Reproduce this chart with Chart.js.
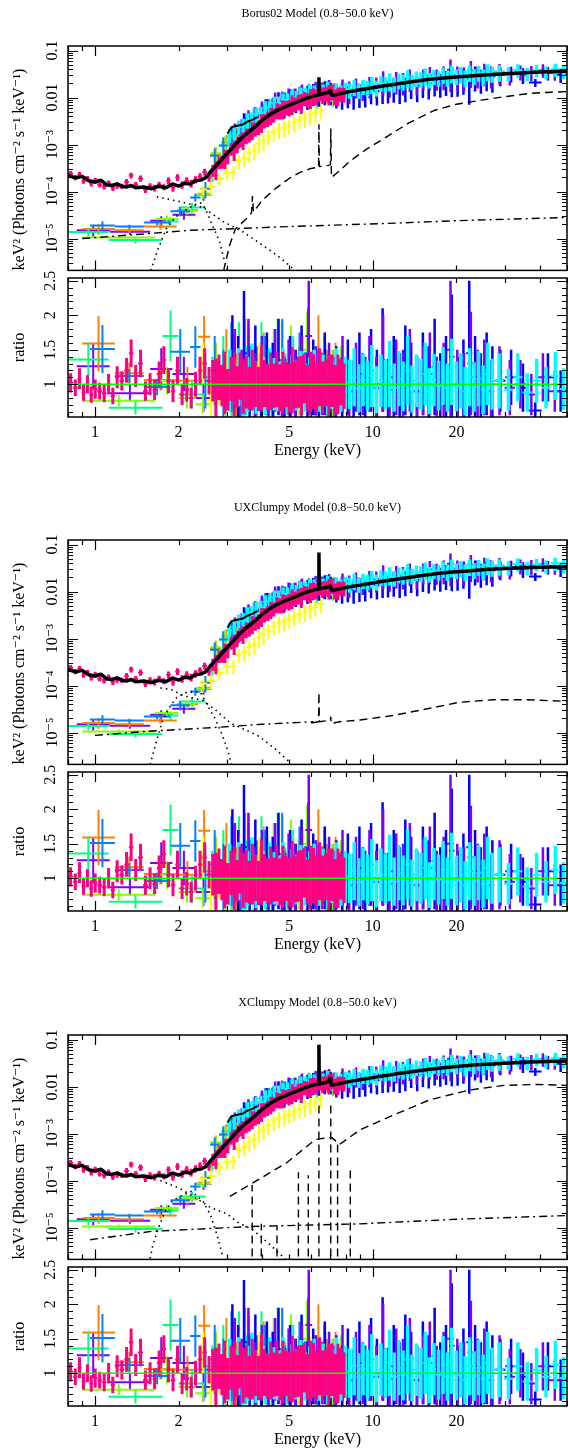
<!DOCTYPE html>
<html>
<head>
<meta charset="utf-8">
<script src="https://cdn.jsdelivr.net/npm/chart.js@4.4.1/dist/chart.umd.min.js"></script>
<style>
  body { margin: 0; background: #fff; width: 568px; height: 1450px; position: relative; overflow: hidden; }
  canvas { position: absolute; left: 0; }
</style>
</head>
<body>
<script>
// ---------- axes, tick labels, titles ----------
const eMin = 0.8, eMax = 50;
const fluxMin = 2.1e-6, fluxMax = 0.125;
const ratioMin = 0.525, ratioMax = 2.54;
const xTickValues = [1, 2, 5, 10, 20];
const xTickLabels = ['1', '2', '5', '10', '20'];
const fluxTickValues = [1e-5, 1e-4, 1e-3, 0.01, 0.1];
const fluxTickLabels = ['10\u207B\u2075', '10\u207B\u2074', '10\u207B\u00B3', '0.01', '0.1'];
const ratioTickValues = [1, 1.5, 2, 2.5];
const ratioTickLabels = ['1', '1.5', '2', '2.5'];
const panelTitles = ['Borus02 Model (0.8\u221250.0 keV)', 'UXClumpy Model (0.8\u221250.0 keV)', 'XClumpy Model (0.8\u221250.0 keV)'];
const fluxTitle = 'keV\u00B2 (Photons cm\u207B\u00B2 s\u207B\u00B9 keV\u207B\u00B9)';

// ---------- data: bin edges (keV), unfolded E^2 f(E), data/model ratio, ratio error ----------
const pinkEdges = [0.8,0.835,0.865,0.895,0.925,0.955,0.985,1.02,1.06,1.1,1.14,1.18,1.225,1.275,1.325,1.375,1.43,1.49,1.55,1.61,1.67,1.735,1.805,1.875,1.945,2.02,2.1,2.18,2.26,2.345,2.435,2.53,2.62,
  2.69,2.76,2.83,2.9,2.97,3.05,3.13,3.21,3.29,3.37,3.46,3.55,3.64,3.73,3.83,3.93,4.03,4.13,4.24,4.35,4.46,4.57,4.69,4.81,4.93,5.06,5.19,5.32,5.46,5.6,5.74,5.89,6.04,6.2,6.36,6.52,6.69,6.86,7.04,7.22,7.4,7.59,7.78,7.98];
const pinkFlux = [2.4e-4,2.0e-4,2.3e-4,1.7e-4,1.9e-4,1.5e-4,1.7e-4,1.4e-4,1.3e-4,1.5e-4,1.2e-4,1.35e-4,1.3e-4,1.6e-4,2.2e-4,1.4e-4,1.9e-4,1.1e-4,1.3e-4,1.2e-4,1.4e-4,1.25e-4,1.7e-4,1.2e-4,2.0e-4,1.4e-4,1.7e-4,1.5e-4,1.8e-4,2.1e-4,2.6e-4,2.0e-4,
  2.9e-4,3.1e-4,4.3e-4,4.4e-4,5.4e-4,5.6e-4,8.2e-4,8.3e-4,9.5e-4,1.25e-3,1.3e-3,1.6e-3,1.65e-3,2.1e-3,2.2e-3,2.4e-3,3.1e-3,3.3e-3,3.6e-3,4.3e-3,4.4e-3,5.5e-3,5.3e-3,6.1e-3,6.3e-3,6.4e-3,7.7e-3,7.5e-3,8.3e-3,8.2e-3,9.8e-3,9.3e-3,1.05e-2,1.12e-2,1.08e-2,1.35e-2,1.18e-2,1.24e-2,1.26e-2,1.38e-2,1.08e-2,1.15e-2,1.22e-2,1.19e-2];
const pinkRatio = [1.02,0.95,1.08,0.88,1.0,0.85,0.93,0.9,0.87,1.0,0.83,1.1,1.05,1.2,1.45,1.12,1.3,0.9,1.0,0.92,1.15,1.35,1.05,0.9,1.2,0.85,0.92,0.8,1.0,1.2,1.3,1.05,
  1.05,0.95,1.1,0.98,1.02,0.92,1.08,1.0,0.96,1.12,0.97,1.03,0.94,1.06,1.0,0.93,1.09,1.01,0.96,1.04,0.98,1.07,0.95,1.02,1.0,0.94,1.06,0.99,1.03,0.97,1.08,0.95,1.01,1.04,0.97,1.1,0.96,1.02,0.98,1.05,0.93,1.0,1.03,0.97];
const pinkErr = [0.14,0.12,0.15,0.12,0.13,0.12,0.14,0.12,0.13,0.15,0.12,0.16,0.14,0.18,0.2,0.16,0.2,0.14,0.16,0.15,0.18,0.2,0.18,0.16,0.2,0.15,0.17,0.15,0.18,0.2,0.22,0.2,
  0.3,0.42,0.33,0.3,0.45,0.3,0.32,0.46,0.3,0.34,0.4,0.38,0.31,0.44,0.33,0.32,0.47,0.34,0.33,0.42,0.32,0.4,0.34,0.45,0.33,0.36,0.48,0.34,0.37,0.44,0.36,0.33,0.46,0.4,0.36,0.42,0.37,0.34,0.45,0.38,0.35,0.43,0.34,0.33];

const cyanEdges = [3.0,3.11,3.23,3.35,3.48,3.61,3.74,3.88,4.03,4.18,4.34,4.5,4.67,4.84,5.02,5.21,5.41,5.61,5.82,6.04,6.27,6.5,6.75,7.0,7.26,7.53,7.82,8.11,8.41,8.73,9.06,9.4,9.75,10.1,10.5,10.9,11.3,11.7,12.2,12.6,13.1,13.6,14.1,14.6,15.2,15.7,16.3,16.9,17.6,18.2,18.9,19.6,20.4,21.1,21.9,22.7,23.6,24.5,25.4,26.4,27.4,29.6,32.0,34.6,37.4,40.4,43.7,47.2,50.0];
const cyanFlux = [1.5e-3,1.75e-3,2.35e-3,2.5e-3,3.3e-3,3.5e-3,4.4e-3,4.6e-3,6.0e-3,6.2e-3,7.5e-3,7.7e-3,9.0e-3,8.9e-3,1.04e-2,1.01e-2,1.2e-2,1.19e-2,1.37e-2,1.32e-2,
  1.5e-2,1.4e-2,1.56e-2,1.27e-2,1.46e-2,1.34e-2,1.52e-2,1.47e-2,1.72e-2,1.49e-2,1.76e-2,1.67e-2,1.96e-2,1.66e-2,2.09e-2,1.98e-2,2.31e-2,2.0e-2,2.36e-2,2.22e-2,
  2.7e-2,2.25e-2,2.64e-2,2.53e-2,2.98e-2,2.45e-2,2.88e-2,2.68e-2,3.12e-2,2.65e-2,3.38e-2,2.89e-2,3.22e-2,2.71e-2,3.48e-2,2.95e-2,3.43e-2,2.87e-2,3.68e-2,3.28e-2,
  3.52e-2,3.28e-2,3.86e-2,3.26e-2,3.83e-2,3.53e-2,4.0e-2,3.62e-2];
const cyanRatio = [1.05,0.95,1.1,0.9,1.0,1.15,0.95,1.05,0.92,1.1,1.0,0.97,1.12,0.93,1.04,0.98,1.08,0.95,1.02,1.1,0.96,1.05,0.9,1.0,1.12,0.95,1.03,1.0,1.1,0.94,
  1.06,0.98,1.12,0.92,1.05,1.0,1.15,0.95,1.08,0.97,1.2,0.93,1.05,1.0,1.15,0.9,1.06,0.98,1.12,0.95,1.18,0.97,1.05,0.9,1.1,0.96,1.08,0.92,1.15,1.0,1.05,0.92,1.1,0.88,1.05,0.95,1.12,0.93];
const cyanErr = [0.45,0.4,0.42,0.38,0.4,0.44,0.38,0.4,0.36,0.42,0.38,0.36,0.4,0.35,0.38,0.36,0.4,0.35,0.37,0.4,0.36,0.38,0.34,0.36,0.4,0.35,0.37,0.36,0.42,0.35,
  0.38,0.36,0.45,0.34,0.38,0.36,0.48,0.35,0.4,0.36,0.5,0.34,0.38,0.37,0.45,0.33,0.38,0.36,0.42,0.35,0.48,0.36,0.4,0.35,0.42,0.36,0.4,0.35,0.45,0.37,0.4,0.3,0.35,0.28,0.32,0.3,0.35,0.3];

const blueEdges = [3.05,3.2,3.36,3.52,3.69,3.87,4.06,4.26,4.47,4.69,4.92,5.16,5.41,5.68,5.96,6.25,6.56,6.88,7.22,7.57,7.94,8.33,8.74,9.17,9.62,10.1,10.6,11.1,11.6,12.2,12.8,13.4,14.1,14.8,15.5,16.3,17.1,17.9,18.8,19.7,20.7,21.7,22.8,23.9,25.1,26.3,27.6,30.0,33.0,36.5,40.5,45.0,50.0];
const blueFlux = [1.53e-3,1.76e-3,2.85e-3,2.78e-3,4.1e-3,4.2e-3,6.1e-3,6.3e-3,8.3e-3,8.1e-3,9.7e-3,9.4e-3,1.14e-2,1.15e-2,1.3e-2,1.27e-2,1.44e-2,1.37e-2,1.11e-2,1.05e-2,
  1.18e-2,1.1e-2,1.26e-2,1.17e-2,1.44e-2,1.36e-2,1.65e-2,1.46e-2,1.71e-2,1.54e-2,1.74e-2,1.96e-2,1.78e-2,2.05e-2,2.02e-2,2.38e-2,2.1e-2,2.38e-2,2.84e-2,2.35e-2,
  2.69e-2,2.55e-2,2.95e-2,2.55e-2,2.85e-2,2.81e-2,3.04e-2,3.3e-2,3.06e-2,2.09e-2,3.37e-2,3.06e-2];
const blueRatio = [1.3,1.1,1.45,1.0,1.2,0.95,1.15,1.05,1.25,0.9,1.1,1.0,1.2,0.95,1.1,1.0,1.15,0.9,1.05,0.95,1.1,0.9,1.15,0.95,1.2,1.0,1.35,0.92,1.1,0.95,
  1.2,1.05,0.9,1.15,1.0,1.25,0.95,1.1,1.4,0.9,1.05,1.45,1.1,0.95,1.15,1.0,1.05,1.1,0.95,0.62,1.1,0.9];
const blueErr = [0.7,0.6,0.9,0.55,0.65,0.5,0.6,0.55,0.7,0.5,0.6,0.5,0.65,0.5,0.55,0.5,0.6,0.45,0.5,0.45,0.55,0.45,0.6,0.45,0.6,0.5,0.75,0.45,0.6,0.5,
  0.65,0.55,0.5,0.6,0.55,0.7,0.5,0.6,0.9,0.5,0.6,1.05,0.6,0.5,0.6,0.55,0.45,0.4,0.35,0.12,0.35,0.3];

const purpleEdges = [3.1,3.28,3.47,3.67,3.88,4.1,4.33,4.58,4.84,5.12,5.41,5.72,6.05,6.4,6.77,7.16,7.57,8.0,8.46,8.95,9.46,10.0,10.6,11.2,11.8,12.5,13.2,14.0,14.8,15.6,16.5,17.5,18.5,19.6,20.7,21.9,23.2,24.5,25.9,27.4,29.8,32.5,35.5,39.0,43.0,47.5];
const purpleFlux = [1.86e-3,2.3e-3,3.56e-3,3.76e-3,5.6e-3,6.0e-3,8.5e-3,8.4e-3,1.04e-2,1.04e-2,1.29e-2,1.29e-2,1.43e-2,1.44e-2,1.63e-2,1.33e-2,1.63e-2,1.46e-2,1.75e-2,1.54e-2,
  1.86e-2,1.82e-2,2.36e-2,1.93e-2,2.32e-2,2.22e-2,2.64e-2,2.21e-2,2.69e-2,2.94e-2,2.65e-2,2.99e-2,3.89e-2,3.04e-2,2.84e-2,3.78e-2,3.12e-2,3.48e-2,3.1e-2,3.52e-2,
  3.12e-2,3.55e-2,3.45e-2,3.87e-2,3.4e-2];
const purpleRatio = [1.2,1.0,1.3,0.95,1.15,1.0,1.2,0.9,1.1,1.0,1.15,1.7,1.05,1.0,1.1,0.95,1.15,0.9,1.1,1.0,1.15,0.95,1.3,0.92,1.1,1.0,1.2,0.9,1.05,1.15,
  0.95,1.05,1.5,1.0,0.95,1.3,1.0,1.1,0.9,1.05,0.95,1.0,0.85,1.1,0.9];
const purpleErr = [0.6,0.5,0.65,0.5,0.55,0.5,0.6,0.45,0.55,0.5,0.55,0.8,0.5,0.45,0.5,0.45,0.55,0.45,0.5,0.45,0.55,0.45,0.7,0.45,0.55,0.5,0.6,0.45,0.5,0.6,
  0.45,0.55,1.0,0.5,0.5,0.75,0.5,0.55,0.45,0.5,0.4,0.35,0.3,0.35,0.3];

const yellowEdges = [2.38,2.53,2.71,2.9,3.08,3.22,3.37,3.52,3.67,3.82,3.97,4.12,4.3,4.5,4.7,4.9,5.1,5.32,5.58,5.82,6.07,6.35,6.65];
const yellowFlux = [1.1e-4,1.25e-4,1.9e-4,2.5e-4,2.6e-4,4.5e-4,5.2e-4,6.6e-4,7.5e-4,1.05e-3,1.2e-3,1.5e-3,1.8e-3,2.1e-3,2.3e-3,2.5e-3,2.9e-3,3.3e-3,3.7e-3,4.3e-3,4.7e-3,5.6e-3];
const yellowRatio = [1.3,0.75,1.0,1.1,0.9,1.2,0.95,1.05,0.9,1.15,1.0,0.95,1.1,0.92,1.05,0.98,1.08,0.95,1.02,1.1,0.93,1.05];
const yellowErr = [0.3,0.25,0.3,0.35,0.3,0.4,0.35,0.4,0.35,0.45,0.4,0.35,0.4,0.35,0.4,0.35,0.4,0.35,0.4,0.45,0.35,0.4];

const springEdges = [0.8,1.12,1.75,2.0,2.5,2.8,3.0,3.2,3.4,3.6,3.85,4.1,4.4,4.7,5.0,5.35,5.7,6.1,6.5,6.95,7.45,8.0];
const springFlux = [1.38e-5,9.3e-6,2.3e-5,4.6e-5,2.2e-4,9.4e-4,1.5e-3,1.9e-3,3.1e-3,3.7e-3,4.7e-3,6.3e-3,7.8e-3,8.5e-3,1.04e-2,1.09e-2,1.37e-2,1.3e-2,1.56e-2,1.27e-2,1.48e-2];
const springRatio = [1.36,0.66,1.7,0.85,1.1,1.2,0.95,1.3,1.05,0.9,1.25,1.0,1.35,0.95,1.15,1.05,1.4,0.9,1.2,1.0,1.1];
const springErr = [0.25,0.1,0.37,0.2,0.3,0.5,0.55,0.6,0.5,0.55,0.65,0.5,0.6,0.5,0.55,0.5,0.6,0.5,0.55,0.5,0.45];

const lgreenEdges = [0.9,1.65,2.0,2.3,2.6,2.85,3.05,3.25,3.45,3.7,3.95,4.25,4.55,4.9,5.25,5.6,6.0,6.45,6.9,7.4,8.0];
const lgreenFlux = [1.05e-5,2.6e-5,4.0e-5,8.5e-5,6.5e-4,1.0e-3,1.7e-3,1.9e-3,3.2e-3,3.75e-3,6.0e-3,6.9e-3,8.9e-3,9.1e-3,1.12e-2,1.2e-2,1.43e-2,1.36e-2,1.33e-2,1.35e-2];
const lgreenRatio = [0.76,1.05,0.8,0.71,1.15,0.95,1.2,1.0,1.3,0.9,1.1,1.2,0.95,1.25,1.05,1.5,0.95,1.15,1.0,1.1];
const lgreenErr = [0.08,0.2,0.15,0.13,0.45,0.5,0.55,0.5,0.6,0.5,0.55,0.6,0.5,0.6,0.5,0.55,0.5,0.55,0.5,0.45];

const orangeEdges = [0.9,1.18,1.5,1.97,2.35,2.6,2.85,3.1,3.35,3.6,3.9,4.2,4.55,4.9,5.3,5.7,6.15,6.6,7.1,7.6,8.0];
const orangeFlux = [1.6e-5,1.5e-5,1.8e-5,4.0e-5,9.0e-5,6.0e-4,1.1e-3,1.7e-3,2.5e-3,3.3e-3,5.0e-3,6.4e-3,8.0e-3,9.5e-3,1.1e-2,1.25e-2,1.4e-2,1.5e-2,1.3e-2,1.45e-2];
const orangeRatio = [1.59,1.16,1.06,1.05,1.69,1.1,1.25,0.95,1.35,1.0,1.2,0.9,1.3,1.05,1.15,0.95,1.45,1.0,1.1,0.95];
const orangeErr = [0.4,0.15,0.15,0.2,0.3,0.5,0.55,0.5,0.6,0.5,0.55,0.45,0.6,0.5,0.55,0.45,0.55,0.5,0.5,0.45];

const azureEdges = [0.96,1.18,1.5,1.87,2.2,2.4,2.6,2.8,3.0,3.2,3.45,3.7,3.95,4.25,4.55,4.9,5.25,5.65,6.05,6.5,7.0,7.5,8.0];
const azureFlux = [1.9e-5,1.8e-5,2.2e-5,3.8e-5,7.5e-5,1.15e-4,5.8e-4,9.5e-4,1.5e-3,2.0e-3,3.3e-3,3.8e-3,6.2e-3,6.8e-3,9.2e-3,9.0e-3,1.15e-2,1.2e-2,1.45e-2,1.4e-2,1.35e-2,1.45e-2];
const azureRatio = [1.51,1.12,0.96,1.47,1.54,1.05,1.2,1.0,1.3,0.95,1.25,1.05,1.15,0.9,1.35,1.0,1.2,1.45,1.05,1.1,0.95,1.0];
const azureErr = [0.35,0.1,0.12,0.33,0.3,0.4,0.5,0.5,0.6,0.45,0.55,0.5,0.55,0.45,0.6,0.5,0.55,0.65,0.5,0.5,0.45,0.4];

const violetEdges = [0.86,1.13,1.58,1.9,2.3,2.63];
const violetFlux = [1.5e-5,1.4e-5,2.4e-5,3.2e-5,8.5e-5];
const violetRatio = [1.26,0.87,1.22,1.15,0.8];
const violetErr = [0.33,0.12,0.3,0.25,0.2];

// ---------- models ----------
const modelSoftE = [0.8,0.85,0.9,0.95,1.0,1.05,1.1,1.15,1.2,1.25,1.3,1.35,1.4,1.5,1.6,1.7,1.8,1.9,2.0,2.1,2.2,2.3,2.4,2.5,2.6,2.7,2.8,2.9,3.0,3.2,3.4,3.6,3.8,4.0,4.3,4.6,5.0,5.4,5.8,6.2];
const modelSoft = [2.2e-4,1.95e-4,2.1e-4,1.7e-4,1.6e-4,1.75e-4,1.4e-4,1.35e-4,1.45e-4,1.3e-4,1.25e-4,1.35e-4,1.2e-4,1.25e-4,1.15e-4,1.3e-4,1.2e-4,1.45e-4,1.3e-4,1.5e-4,1.45e-4,1.7e-4,1.75e-4,1.95e-4,2.6e-4,3.3e-4,4.2e-4,5.3e-4,
  6.6e-4,1.0e-3,1.45e-3,1.9e-3,2.5e-3,3.3e-3,4.5e-3,5.6e-3,6.9e-3,8.3e-3,9.8e-3,1.1e-2];
const modelHardE = [6.38,6.4,6.42,6.6,6.9,7.05,7.1,7.3,7.6,8.0,8.5,9,10,11,12,14,16,18,20,23,26,30,35,40,45,50];
const borusHard = [1.13e-2,2.7e-2,1.14e-2,1.2e-2,1.28e-2,1.45e-2,1.1e-2,1.13e-2,1.2e-2,1.3e-2,1.38e-2,1.46e-2,1.62e-2,1.78e-2,1.92e-2,2.2e-2,2.45e-2,2.62e-2,2.75e-2,2.92e-2,3.07e-2,3.22e-2,3.38e-2,3.5e-2,3.58e-2,3.65e-2];
const uxHard = [1.12e-2,6.8e-2,1.13e-2,1.18e-2,1.25e-2,1.35e-2,1.05e-2,1.08e-2,1.14e-2,1.22e-2,1.3e-2,1.37e-2,1.52e-2,1.67e-2,1.8e-2,2.07e-2,2.3e-2,2.5e-2,2.65e-2,2.82e-2,2.97e-2,3.1e-2,3.22e-2,3.3e-2,3.35e-2,3.38e-2];
const xcHard = [1.12e-2,7.8e-2,1.13e-2,1.18e-2,1.25e-2,1.6e-2,1.06e-2,1.1e-2,1.16e-2,1.24e-2,1.32e-2,1.4e-2,1.55e-2,1.7e-2,1.84e-2,2.1e-2,2.33e-2,2.52e-2,2.68e-2,2.86e-2,3.0e-2,3.15e-2,3.28e-2,3.38e-2,3.45e-2,3.5e-2];
// second (cross-normalised) model step near 3-4 keV
const stepE = [3.0,3.1,3.25,3.4,3.55,3.7,3.85];
const stepF = [1.7e-3,2.35e-3,2.5e-3,2.65e-3,3.1e-3,3.4e-3,3.9e-3];

// borus02: reflection (dashed), scattered power law (dash-dot), soft components (dotted)
const borusReflE = [2.9,3.05,3.2,3.5,3.66,3.69,3.72,4.0,4.5,5.0,5.5,6.0,6.38,6.4,6.42,6.9,7.04,7.06,7.1,7.5,8.3,9.5,11.1,13.5,16.6,20,24.6,30,37,44,50];
const borusReflF = [2e-6,7e-6,1.6e-5,2.6e-5,3.5e-5,8e-5,3.7e-5,6.5e-5,1.2e-4,1.9e-4,2.6e-4,3.1e-4,3.3e-4,2.7e-3,3.4e-4,3.6e-4,3.7e-4,2.2e-3,2.0e-4,2.6e-4,4.5e-4,8.0e-4,1.4e-3,2.9e-3,5.3e-3,7.2e-3,8.8e-3,1.05e-2,1.23e-2,1.3e-2,1.34e-2];
const borusScatE = [0.9,1.5,2.2,3.0,5.0,11.4,20,50];
const borusScatF = [1.0e-5,1.25e-5,1.5e-5,1.6e-5,1.8e-5,2.1e-5,2.4e-5,2.8e-5];
const borusDot1E = [1.59,1.68,1.82,1.97,2.14,2.3,2.39,2.45,2.52,2.64,2.8,2.92,3.0];
const borusDot1F = [2.1e-6,5.6e-6,1.8e-5,3.0e-5,4.2e-5,5.3e-5,5.8e-5,5.2e-5,3.8e-5,2.0e-5,9e-6,3.5e-6,2.1e-6];
const borusDot2E = [1.67,2.0,2.45,2.89,3.4,4.0,4.5,5.0,5.3];
const borusDot2F = [7.7e-5,6.2e-5,4.6e-5,2.3e-5,1.4e-5,7.3e-6,4.5e-6,2.7e-6,2.0e-6];

// UXClumpy
const uxReflE = [6.0,6.38,6.4,6.42,6.9,7.04,7.06,7.08,7.6,9.0,11.8,15.7,20.4,27,35.7,50];
const uxReflF = [1.6e-5,1.7e-5,7.2e-5,1.7e-5,1.8e-5,1.85e-5,2.2e-5,1.55e-5,1.7e-5,1.85e-5,2.3e-5,3.2e-5,4.4e-5,5.0e-5,5.0e-5,4.6e-5];
const uxScatE = [1.0,1.5,2.8,4.0,6.1];
const uxScatF = [8.7e-6,1.05e-5,1.3e-5,1.5e-5,1.7e-5];
const uxDot1E = [1.58,1.67,1.75,1.87,1.97,2.14,2.39,2.45,2.72,2.88,3.02,3.1];
const uxDot1F = [2.1e-6,7e-6,1.8e-5,3.7e-5,5.6e-5,7.2e-5,7.4e-5,5.6e-5,1.85e-5,8.5e-6,3.8e-6,2.1e-6];
const uxDot2E = [1.72,1.87,2.1,2.45,2.72,3.07,3.9,4.45,5.0];
const uxDot2F = [8.9e-5,8.3e-5,6.0e-5,4.8e-5,3.0e-5,1.6e-5,8.3e-6,4.5e-6,2.4e-6];

// XClumpy
const xcReflE = [3.06,3.7,4.9,6.2,6.5,7.1,7.6,9.0,12.1,16.0,22.2,29.6,38.9,50];
const xcReflF = [4.6e-5,8.9e-5,2.4e-4,7.4e-4,7.8e-4,8.3e-4,5.9e-4,1.2e-3,2.6e-3,5.2e-3,8.4e-3,1.06e-2,1.11e-2,1.06e-2];
const xcLineE = [3.68,3.97,4.52,5.4,5.86,6.4,7.06,7.47,8.3];
const xcLinePeak = [8e-5,1.2e-5,1.1e-5,1.5e-4,1.3e-4,4.4e-3,4.9e-3,7.4e-4,1.8e-4];
const xcScatE = [0.96,1.6,3.6,9.0,20,50];
const xcScatF = [5.5e-6,8.3e-6,1.05e-5,1.2e-5,1.5e-5,1.8e-5];
const xcDot1E = [1.58,1.62,1.69,1.78,1.9,2.07,2.23,2.45,2.6,2.74,2.88];
const xcDot1F = [2.2e-6,4.5e-6,9.5e-6,2.1e-5,3.7e-5,4.9e-5,5.9e-5,3.6e-5,1.9e-5,7.5e-6,2.5e-6];
const xcDot2E = [1.72,2.0,2.26,2.6,2.99,3.26,3.7,4.2,4.9];
const xcDot2F = [1.0e-4,7e-5,4.6e-5,2.7e-5,1.95e-5,1.3e-5,9e-6,4.7e-6,2e-6];

const unityE = [0.8, 50];
const unityR = [1, 1];

// ---------- styling ----------
const SERIF = '"Liberation Serif", "DejaVu Serif", serif';
Chart.defaults.font.family = SERIF;
Chart.defaults.color = '#000';

const dataSeries = [ // first entry is drawn on top; vw = width of the error bars
  {color: 'rgb(255,0,128)', vw: 3, edges: pinkEdges, flux: pinkFlux, ratio: pinkRatio, err: pinkErr},
  {color: 'rgb(0,255,255)', vw: 3.5, edges: cyanEdges, flux: cyanFlux, ratio: cyanRatio, err: cyanErr},
  {color: 'rgb(128,0,255)', vw: 2.5, edges: purpleEdges, flux: purpleFlux, ratio: purpleRatio, err: purpleErr},
  {color: 'rgb(0,0,255)', vw: 2.5, edges: blueEdges, flux: blueFlux, ratio: blueRatio, err: blueErr},
  {color: 'rgb(255,255,0)', vw: 2, edges: yellowEdges, flux: yellowFlux, ratio: yellowRatio, err: yellowErr},
  {color: 'rgb(0,128,255)', vw: 2, edges: azureEdges, flux: azureFlux, ratio: azureRatio, err: azureErr},
  {color: 'rgb(128,255,0)', vw: 2, edges: lgreenEdges, flux: lgreenFlux, ratio: lgreenRatio, err: lgreenErr},
  {color: 'rgb(0,255,128)', vw: 2, edges: springEdges, flux: springFlux, ratio: springRatio, err: springErr},
  {color: 'rgb(255,128,0)', vw: 2, edges: orangeEdges, flux: orangeFlux, ratio: orangeRatio, err: orangeErr},
  {color: 'rgb(128,0,255)', vw: 2, edges: violetEdges, flux: violetFlux, ratio: violetRatio, err: violetErr}
];

const panels = [
  {hard: borusHard, refl: [borusReflE, borusReflF], scat: [borusScatE, borusScatF], dot1: [borusDot1E, borusDot1F], dot2: [borusDot2E, borusDot2F]},
  {hard: uxHard, refl: [uxReflE, uxReflF], scat: [uxScatE, uxScatF], dot1: [uxDot1E, uxDot1F], dot2: [uxDot2E, uxDot2F]},
  {hard: xcHard, refl: [xcReflE, xcReflF], scat: [xcScatE, xcScatF], dot1: [xcDot1E, xcDot1F], dot2: [xcDot2E, xcDot2F], lines: [xcLineE, xcLinePeak]}
];
const panelOffsets = [0, 494, 989];

// tick marks drawn inside the frame (PGPLOT style)
const xMajorTicks = [1, 10];
const xMinorTicks = [0.8, 0.9, 2, 3, 4, 5, 6, 7, 8, 9, 20, 30, 40, 50];
const fluxMinorTicks = [];
for (let d = -6; d <= -1; d++) for (let m = 2; m <= 9; m++) {
  const v = m * Math.pow(10, d);
  if (v > fluxMin && v < fluxMax) fluxMinorTicks.push(v);
}
const ratioMinorTicks = [];
for (let v = 6; v <= 25; v++) if (v % 5) ratioMinorTicks.push(v / 10);

const frameTicks = {
  id: 'frameTicks',
  afterDatasetsDraw(chart, _args, o) {
    const {ctx, chartArea: a} = chart;
    const xs = chart.scales.x, ys = chart.scales.y;
    ctx.save();
    ctx.strokeStyle = '#000';
    ctx.lineWidth = 1.2;
    ctx.setLineDash([]);
    ctx.beginPath();
    const seg = (x1, y1, x2, y2) => { ctx.moveTo(x1, y1); ctx.lineTo(x2, y2); };
    [[xMajorTicks, 10], [xMinorTicks, 5]].forEach(([list, len]) => list.forEach(v => {
      const px = Math.round(xs.getPixelForValue(v)) + 0.5;
      seg(px, a.top, px, a.top + len);
      seg(px, a.bottom, px, a.bottom - len);
    }));
    [[o.yMajor, 10], [o.yMinor, 5]].forEach(([list, len]) => list.forEach(v => {
      const py = Math.round(ys.getPixelForValue(v)) + 0.5;
      seg(a.left, py, a.left + len, py);
      seg(a.right, py, a.right - len, py);
    }));
    ctx.stroke();
    ctx.lineWidth = 1.5;
    ctx.strokeRect(a.left, a.top, a.right - a.left, a.bottom - a.top);
    ctx.restore();
  }
};

// ---------- helpers ----------
function hBars(edges, val) {
  const pts = [];
  for (let i = 0; i < val.length; i++) pts.push({x: edges[i], y: val[i]}, {x: edges[i + 1], y: val[i]}, {x: edges[i + 1], y: null});
  return pts;
}
function vBars(edges, lo, hi) {
  const pts = [];
  for (let i = 0; i < lo.length; i++) {
    const c = Math.sqrt(edges[i] * edges[i + 1]);
    pts.push({x: c, y: lo[i]}, {x: c, y: hi[i]}, {x: c, y: null});
  }
  return pts;
}
function curve(E, F) { return E.map((e, i) => ({x: e, y: F[i]})); }
function lineSet(data, color, width, dash, order) {
  return {data, showLine: true, borderColor: color, backgroundColor: color, borderWidth: width,
    borderDash: dash || [], pointRadius: 0, pointHoverRadius: 0, spanGaps: false, order,
    clip: 0, borderCapStyle: 'butt', borderJoinStyle: 'bevel', tension: 0};
}
function makeCanvas(top, h) {
  const c = document.createElement('canvas');
  c.width = 568; c.height = h;
  c.style.top = top + 'px';
  document.body.appendChild(c);
  return c;
}
const tickFont = {family: SERIF, size: 16};
const noGrid = {display: false, drawTicks: false};

function spectrumChart(p, idx, oy) {
  const ds = [];
  dataSeries.forEach((s, k) => {
    const lo = s.flux.map((f, i) => Math.max(f * (1 - s.err[i] / s.ratio[i]), 1e-9));
    const hi = s.flux.map((f, i) => f * (1 + s.err[i] / s.ratio[i]));
    ds.push(lineSet(vBars(s.edges, lo, hi), s.color, s.vw, null, 20 + 2 * k));
    ds.push(lineSet(hBars(s.edges, s.flux), s.color, 2, null, 21 + 2 * k));
  });
  const dashed = [8, 5], dashDot = [8, 4, 2, 4], dotted = [1.5, 4];
  ds.push(lineSet(curve(modelSoftE.concat(modelHardE), modelSoft.concat(p.hard)), '#000', 3.5, null, 1));
  ds.push(lineSet(curve(stepE, stepF), '#000', 2, null, 2));
  ds.push(lineSet(curve(p.refl[0], p.refl[1]), '#000', 1.4, dashed, 3));
  ds.push(lineSet(curve(p.scat[0], p.scat[1]), '#000', 1.4, dashDot, 4));
  ds.push(lineSet(curve(p.dot1[0], p.dot1[1]), '#000', 1.6, dotted, 5));
  ds.push(lineSet(curve(p.dot2[0], p.dot2[1]), '#000', 1.6, dotted, 6));
  if (p.lines) {
    const pts = [];
    p.lines[0].forEach((e, i) => pts.push({x: e, y: 1e-7}, {x: e, y: p.lines[1][i]}, {x: e, y: null}));
    ds.push(lineSet(pts, '#000', 1.4, dashed, 7));
  }
  new Chart(makeCanvas(oy, 280), {
    type: 'scatter',
    data: {datasets: ds},
    options: {
      responsive: false, animation: false, events: [],
      layout: {padding: {left: 0, right: 1, top: 0, bottom: 2}},
      plugins: {
        legend: {display: false}, tooltip: {enabled: false},
        title: {display: true, text: panelTitles[idx], fullSize: false, color: '#000',
          font: {family: SERIF, size: 12, weight: 'normal'}, padding: {top: 7, bottom: 24.6}},
        frameTicks: {yMajor: fluxTickValues, yMinor: fluxMinorTicks}
      },
      scales: {
        x: {type: 'logarithmic', min: eMin, max: eMax, display: false},
        y: {type: 'logarithmic', min: fluxMin, max: fluxMax, position: 'left',
          afterFit: s => { s.width = 68; },
          afterBuildTicks: s => { s.ticks = fluxTickValues.map(v => ({value: v})); },
          grid: noGrid, border: {display: false},
          ticks: {callback: v => fluxTickLabels[fluxTickValues.indexOf(v)] ?? '', font: tickFont, color: '#000',
            minRotation: 90, maxRotation: 90, crossAlign: 'center', padding: 0, autoSkip: false},
          title: {display: true, text: fluxTitle, align: 'start', font: tickFont, color: '#000', padding: {top: 10, bottom: 0}}}
      }
    },
    plugins: [frameTicks]
  });
}

function ratioChart(p, idx, oy) {
  const ds = [];
  dataSeries.forEach((s, k) => {
    const lo = s.ratio.map((r, i) => r - s.err[i]);
    const hi = s.ratio.map((r, i) => r + s.err[i]);
    ds.push(lineSet(vBars(s.edges, lo, hi), s.color, s.vw, null, 20 + 2 * k));
    ds.push(lineSet(hBars(s.edges, s.ratio), s.color, 2, null, 21 + 2 * k));
  });
  ds.push(lineSet(curve(unityE, unityR), 'rgb(0,255,0)', 1.6, null, 1));
  new Chart(makeCanvas(oy + 258, 212), {
    type: 'scatter',
    data: {datasets: ds},
    options: {
      responsive: false, animation: false, events: [],
      layout: {padding: {left: 0, right: 1, top: 20, bottom: 0}},
      plugins: {legend: {display: false}, tooltip: {enabled: false},
        frameTicks: {yMajor: ratioTickValues, yMinor: ratioMinorTicks}},
      scales: {
        x: {type: 'logarithmic', min: eMin, max: eMax, position: 'bottom',
          afterFit: s => { s.height = 53; },
          afterBuildTicks: s => { s.ticks = xTickValues.map(v => ({value: v})); },
          grid: noGrid, border: {display: false},
          ticks: {callback: v => xTickLabels[xTickValues.indexOf(v)] ?? '', font: tickFont, color: '#000',
            maxRotation: 0, minRotation: 0, padding: 6, autoSkip: false},
          title: {display: true, text: 'Energy (keV)', font: tickFont, color: '#000', padding: {top: 0, bottom: 10}}},
        y: {type: 'linear', min: ratioMin, max: ratioMax, position: 'left',
          afterFit: s => { s.width = 68; },
          afterBuildTicks: s => { s.ticks = ratioTickValues.map(v => ({value: v})); },
          grid: noGrid, border: {display: false},
          ticks: {callback: v => ratioTickLabels[ratioTickValues.indexOf(v)] ?? '', font: tickFont, color: '#000',
            minRotation: 90, maxRotation: 90, crossAlign: 'center', padding: 7, autoSkip: false},
          title: {display: true, text: 'ratio', font: tickFont, color: '#000', padding: {top: 10, bottom: 0}}}
      }
    },
    plugins: [frameTicks]
  });
}

panels.forEach((p, i) => {
  spectrumChart(p, i, panelOffsets[i]);
  ratioChart(p, i, panelOffsets[i]);
});
</script>
</body>
</html>
